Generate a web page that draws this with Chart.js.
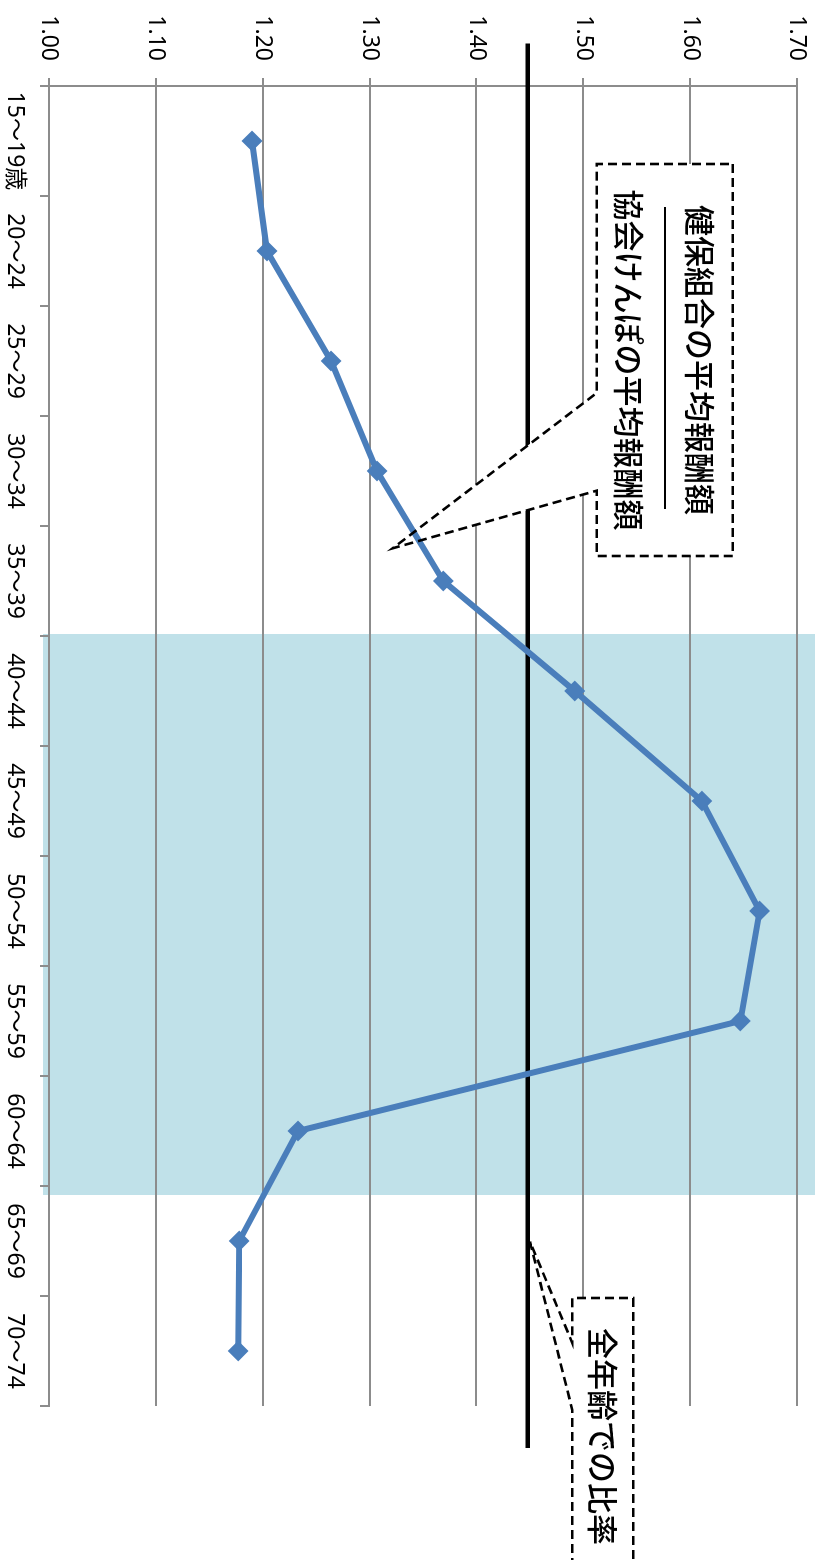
<!DOCTYPE html>
<html>
<head>
<meta charset="utf-8">
<script src="https://cdn.jsdelivr.net/npm/chart.js@4.4.1/dist/chart.umd.min.js"></script>
<style>
  html, body { margin: 0; padding: 0; background: #fff; width: 817px; height: 1560px; overflow: hidden; }
  /* the chart is laid out landscape and turned a quarter clockwise */
  #wrap { position: absolute; left: 0; top: 0; width: 1560px; height: 817px;
          transform-origin: 0 0; transform: translate(817px, 0) rotate(90deg); }
  canvas { display: block; }
</style>
</head>
<body>
<div id="wrap"><canvas id="c" width="1560" height="817"></canvas></div>
<script>
// 年齢階級別：健保組合 ÷ 協会けんぽ の平均報酬額の比率
const ageGroups = ['15～19歳', '20～24', '25～29', '30～34', '35～39', '40～44',
                   '45～49', '50～54', '55～59', '60～64', '65～69', '70～74'];
const ratioByAge = [1.190, 1.204, 1.264, 1.307, 1.369, 1.492,
                    1.611, 1.665, 1.647, 1.233, 1.178, 1.177];
const allAgeRatio = 1.448;
const valueAxisMin = 1.00;
const valueAxisMax = 1.70;
const valueAxisStep = 0.10;
const highlightFrom = '40～44';
const highlightTo = '60～64';
const calloutNumerator = '健保組合の平均報酬額';
const calloutDenominator = '協会けんぽの平均報酬額';
const calloutAllAges = '全年齢での比率';

const LATIN = "'Noto Sans', 'Noto Sans CJK JP', sans-serif";
const CJK = "'Noto Sans CJK JP', 'Noto Sans', sans-serif";
const GRID = '#8c8c8c';

const decorations = {
  id: 'decorations',
  beforeDraw(chart) {
    // highlighted age band (40～64)
    const { ctx, scales: { x, y } } = chart;
    const half = (x.getPixelForValue(1) - x.getPixelForValue(0)) / 2;
    const left = x.getPixelForValue(ageGroups.indexOf(highlightFrom)) - half - 2;
    const right = x.getPixelForValue(ageGroups.indexOf(highlightTo)) + half + 9;
    ctx.save();
    ctx.fillStyle = '#c0e1e9';
    ctx.fillRect(left, 2, right - left, y.getPixelForValue(valueAxisMin) + 6 - 2);
    ctx.restore();
  },
  beforeDatasetsDraw(chart) {
    const { ctx, chartArea: a, scales: { y } } = chart;
    // all-ages reference line
    const yy = y.getPixelForValue(allAgeRatio);
    ctx.save();
    ctx.strokeStyle = '#000';
    ctx.lineWidth = 4.5;
    ctx.beginPath();
    ctx.moveTo(a.left - 42.5, yy);
    ctx.lineTo(a.right + 42, yy);
    ctx.stroke();
    // callout backgrounds
    ctx.fillStyle = '#fff';
    ctx.beginPath(); calloutPathMain(ctx); ctx.fill();
    ctx.beginPath(); calloutPathAll(ctx); ctx.fill();
    ctx.restore();
  },
  afterDatasetsDraw(chart) {
    const { ctx } = chart;
    ctx.save();
    ctx.strokeStyle = '#000';
    ctx.lineWidth = 2.6;
    ctx.setLineDash([9, 5]);
    ctx.beginPath(); calloutPathMain(ctx); ctx.stroke();
    ctx.beginPath(); calloutPathAll(ctx); ctx.stroke();
    ctx.setLineDash([]);
    // fraction bar
    ctx.lineWidth = 2;
    ctx.beginPath(); ctx.moveTo(207, 152); ctx.lineTo(509, 152); ctx.stroke();
    ctx.fillStyle = '#000';
    ctx.font = '500 31px ' + CJK;
    ctx.textBaseline = 'middle';
    ctx.textAlign = 'center';
    ctx.fillText(calloutNumerator, 360, 117);
    ctx.fillText(calloutDenominator, 360, 188);
    ctx.textAlign = 'left';
    ctx.fillText(calloutAllAges, 1328, 214);
    ctx.restore();
  }
};

function calloutPathMain(ctx) {
  ctx.moveTo(164, 84.3);
  ctx.lineTo(556, 84.3);
  ctx.lineTo(556, 220.3);
  ctx.lineTo(490.7, 220.3);
  ctx.lineTo(548.3, 424.3);
  ctx.lineTo(393, 220.3);
  ctx.lineTo(164, 220.3);
  ctx.closePath();
}

function calloutPathAll(ctx) {
  ctx.moveTo(1298, 183.7);
  ctx.lineTo(1640, 183.7);
  ctx.lineTo(1640, 244.7);
  ctx.lineTo(1410, 244.7);
  ctx.lineTo(1241.7, 287);
  ctx.lineTo(1343, 244.7);
  ctx.lineTo(1298, 244.7);
  ctx.closePath();
}

new Chart(document.getElementById('c'), {
  type: 'line',
  data: {
    labels: ageGroups,
    datasets: [{
      data: ratioByAge,
      borderColor: '#4a7ebb',
      borderWidth: 6,
      tension: 0,
      pointStyle: 'rectRot',
      pointRadius: 9,
      pointBorderWidth: 2,
      pointBackgroundColor: '#4a7ebb',
      pointBorderColor: '#4a7ebb',
      clip: false
    }]
  },
  options: {
    responsive: false,
    animation: false,
    events: [],
    layout: { padding: { top: 20, right: 154, left: 0, bottom: 0 } },
    plugins: { legend: { display: false }, tooltip: { enabled: false } },
    scales: {
      x: {
        type: 'category',
        offset: true,
        grid: { offset: true, drawOnChartArea: false, drawTicks: true, tickLength: 9, color: GRID, lineWidth: 2 },
        border: { display: true, color: GRID, width: 2 },
        ticks: { color: '#000', font: { family: LATIN, size: 23 }, padding: 12, maxRotation: 0, autoSkip: false },
        afterFit(s) { s.height = 49; s.paddingLeft = 0; s.paddingRight = 0; }
      },
      y: {
        min: valueAxisMin,
        max: valueAxisMax,
        grid: { color: GRID, lineWidth: 2, tickLength: 8 },
        border: { display: true, color: GRID, width: 2 },
        ticks: {
          stepSize: valueAxisStep,
          color: '#000',
          font: { family: LATIN, size: 23 },
          padding: 17,
          callback: v => Number(v).toFixed(2)
        },
        afterFit(s) { s.width = 86; s.paddingTop = 0; s.paddingBottom = 0; }
      }
    }
  },
  plugins: [decorations]
});
</script>
</body>
</html>
